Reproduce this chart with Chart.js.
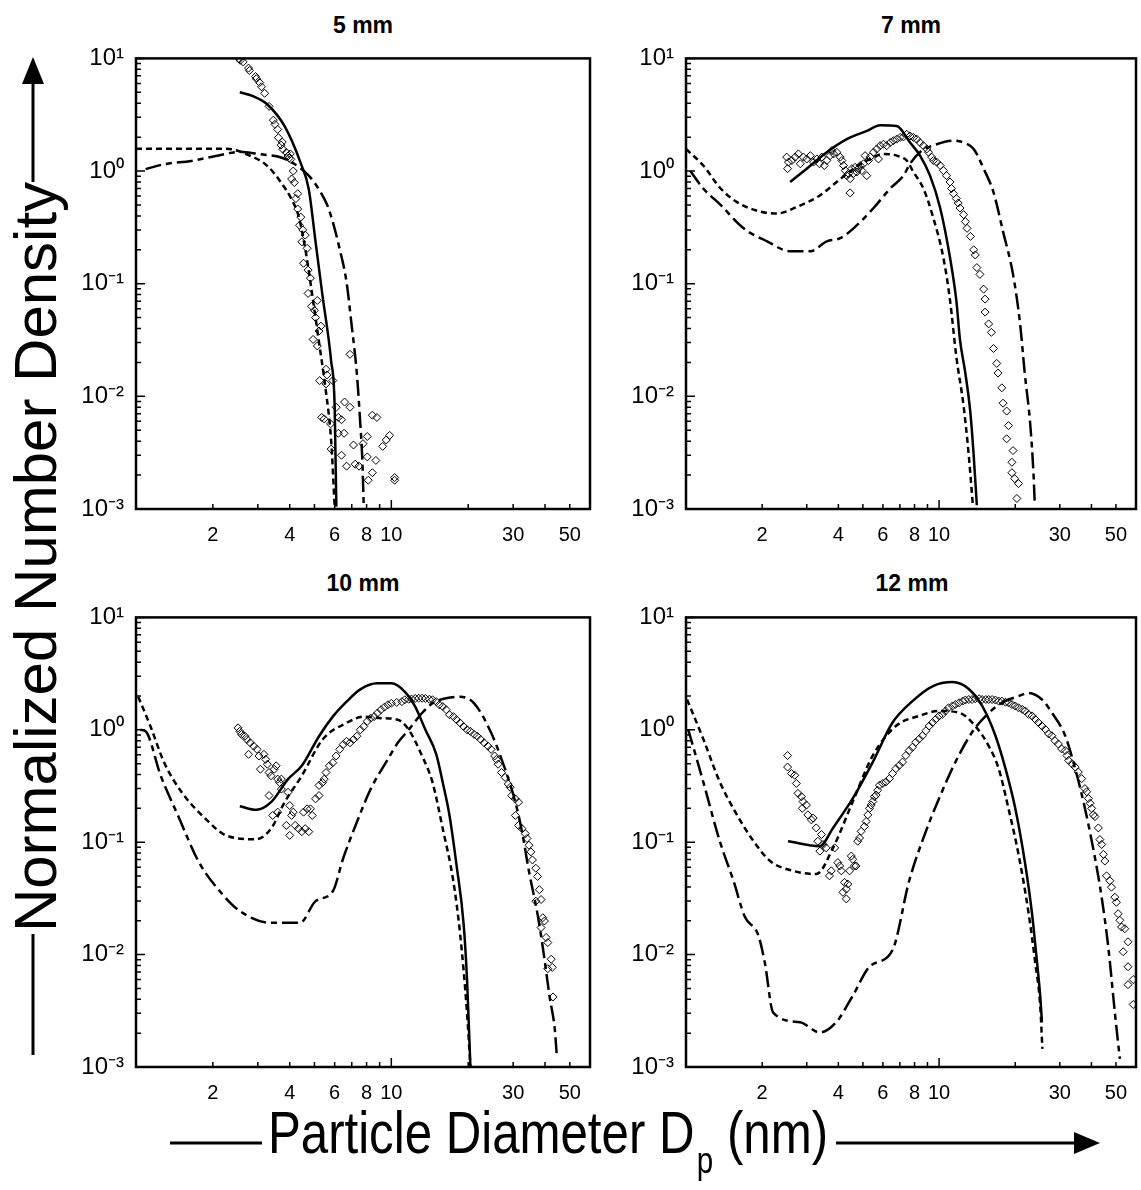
<!DOCTYPE html>
<html>
<head>
<meta charset="utf-8">
<script src="https://cdn.jsdelivr.net/npm/chart.js@4.4.1/dist/chart.umd.min.js"></script>
<style>
  body { margin: 0; background: #fff; }
  #page { position: relative; width: 1141px; height: 1190px; overflow: hidden; background: #fff; }
  canvas { position: absolute; }
  .ptitle { position: absolute; transform: translate(-50%, -50%); font: bold 23px "Liberation Sans", Arial, sans-serif; color: #000; white-space: nowrap; }
  .anchor { position: absolute; width: 0; height: 0; }
  .axt { position: absolute; left: 0; top: 0; white-space: nowrap; font: 60px "Liberation Sans", Arial, sans-serif; color: #000; }
  .axt sub { font-size: 0.6em; vertical-align: -0.55em; margin-left: 0.08em; }
</style>
</head>
<body>
<div id="page">
  <canvas id="c5" width="556" height="514" style="left:40px;top:40px"></canvas>
  <canvas id="c7" width="545" height="514" style="left:596px;top:40px"></canvas>
  <canvas id="c10" width="556" height="513" style="left:40px;top:599px"></canvas>
  <canvas id="c12" width="545" height="513" style="left:596px;top:599px"></canvas>

  <div class="ptitle" style="left:363px;top:25px">5 mm</div>
  <div class="ptitle" style="left:911px;top:25px">7 mm</div>
  <div class="ptitle" style="left:363px;top:583px">10 mm</div>
  <div class="ptitle" style="left:912px;top:583px">12 mm</div>

  <svg width="1141" height="1190" style="position:absolute;left:0;top:0">
    <line x1="33" y1="1055" x2="33" y2="934" stroke="#000" stroke-width="3"/>
    <line x1="33" y1="182" x2="33" y2="80" stroke="#000" stroke-width="3"/>
    <polygon points="33,57 22,84 44,84" fill="#000"/>
    <line x1="170" y1="1143" x2="262" y2="1143" stroke="#000" stroke-width="3"/>
    <line x1="836" y1="1143" x2="1078" y2="1143" stroke="#000" stroke-width="3"/>
    <polygon points="1100,1143 1074,1132 1074,1154" fill="#000"/>
  </svg>

  <div class="anchor" style="left:35px;top:557px">
    <div class="axt" style="transform: translate(-50%, -50%) rotate(-90deg)">Normalized Number Density</div>
  </div>
  <div class="anchor" style="left:548px;top:1140px">
    <div class="axt" style="transform: translate(-50%, -50%) scaleX(0.82)">Particle Diameter D<sub>p</sub> (nm)</div>
  </div>
</div>

<script>
// axes
const xTickValues = [2, 3, 4, 5, 6, 7, 8, 9, 10, 20, 30, 40, 50];
const xTickLabels = [2, 4, 6, 8, 10, 30, 50];
const yTickValues = [0.001, 0.01, 0.1, 1, 10];
const yTickLabels = ['10\u207B\u00B3', '10\u207B\u00B2', '10\u207B\u00B9', '10\u2070', '10\u00B9'];

// 5 mm
const p5Solid = [[2.55,5.0],[2.89,4.6],[3.27,3.9],[3.82,2.5],[4.42,1.17],[4.75,0.69],[5.05,0.235],[5.37,0.08],[5.81,0.0207],[6.0,0.008],[6.09,0.00105]];
const p5Short = [[1.0,1.58],[2.25,1.58],[2.71,1.41],[3.27,1.11],[3.7,0.79],[4.06,0.566],[4.33,0.40],[4.6,0.205],[4.9,0.080],[5.2,0.031],[5.54,0.0112],[5.81,0.0041],[6.0,0.00105]];
const p5Long = [[1.09,1.04],[1.29,1.15],[1.65,1.23],[2.05,1.36],[2.55,1.48],[3.07,1.41],[3.7,1.32],[4.19,1.15],[4.75,0.91],[5.2,0.69],[5.62,0.494],[5.9,0.352],[6.27,0.205],[6.67,0.105],[6.99,0.043],[7.33,0.0158],[7.56,0.0057],[7.69,0.0029],[7.8,0.00105]];
const p5Points = [[2.54,9.9],[2.56,9.6],[2.63,9.3],[2.76,8.2],[2.78,7.8],[2.94,6.9],[2.96,6.6],[3.05,6.1],[3.10,5.6],[3.19,4.9],[3.32,3.75],[3.45,2.83],[3.50,2.6],
  [3.59,2.34],[3.61,1.98],[3.70,1.7],[3.74,1.81],[3.76,1.56],[3.88,1.46],[3.94,1.36],[3.98,1.3],[4.02,1.42],[4.04,1.27],[4.13,1.0],[4.07,0.85],[4.17,0.79],
  [4.30,0.63],[4.23,0.57],[4.30,0.46],[4.42,0.39],[4.37,0.33],[4.50,0.30],[4.60,0.27],[4.46,0.235],[4.68,0.206],[4.53,0.152],[4.72,0.132],[4.82,0.112],
  [4.72,0.082],[4.87,0.063],[5.0,0.058],[5.05,0.050],[5.13,0.071],[5.21,0.038],[5.3,0.042],[4.94,0.032],[5.13,0.028],[5.55,0.0174],[5.6,0.0155],[5.24,0.0138],
  [5.55,0.0129],[5.90,0.0138],[6.08,0.0080],[5.34,0.0065],[5.46,0.0063],[5.78,0.0057],[6.20,0.0065],[6.38,0.0062],[6.20,0.0047],[6.53,0.0047],[6.56,0.0089],
  [6.89,0.0080],[6.89,0.0236],[6.68,0.0024],[6.38,0.0030],[7.22,0.0025],[7.47,0.0024],[7.11,0.0037],[7.75,0.0038],[8.05,0.0044],[8.43,0.0068],[8.78,0.0065],
  [8.05,0.0029],[8.12,0.0018],[8.43,0.0021],[8.70,0.0027],[9.25,0.0036],[9.55,0.0041],[9.85,0.0045],[10.3,0.0019],[10.3,0.0018],[5.81,0.0034]];

// 7 mm
const p7Solid = [[2.58,0.80],[3.0,1.05],[3.6,1.47],[4.32,1.92],[5.18,2.27],[5.85,2.55],[6.8,2.51],[7.68,1.79],[8.41,1.37],[9.21,0.91],[10.1,0.47],[11.05,0.17],[11.7,0.071],[12.1,0.0315],[12.7,0.0161],[13.3,0.0071],[13.7,0.003],[14.1,0.00108]];
const p7Short = [[1.0,1.57],[1.17,1.12],[1.37,0.70],[1.59,0.53],[1.97,0.436],[2.29,0.42],[2.74,0.48],[3.39,0.61],[3.94,0.80],[4.59,1.05],[5.34,1.28],[6.03,1.42],[6.8,1.37],[7.45,1.24],[7.92,0.98],[8.67,0.70],[9.5,0.38],[10.4,0.17],[11.05,0.071],[11.7,0.0225],[12.5,0.0082],[13.1,0.003],[13.6,0.00108]];
const p7Long = [[1.04,1.0],[1.17,0.70],[1.37,0.50],[1.69,0.31],[2.09,0.238],[2.58,0.194],[3.1,0.194],[3.6,0.238],[4.07,0.254],[4.59,0.31],[5.51,0.47],[6.41,0.70],[7.23,0.91],[7.68,1.16],[8.41,1.47],[9.79,1.73],[11.4,1.86],[12.5,1.79],[13.7,1.57],[15.0,1.05],[16.4,0.65],[17.9,0.29],[19.6,0.121],[20.9,0.044],[21.8,0.0161],[22.9,0.0058],[23.6,0.0021],[23.9,0.00108]];
const p7Points = [[2.50,1.33],[2.54,1.20],[2.52,1.05],[2.62,1.24],[2.70,1.33],[2.78,1.42],[2.83,1.16],[2.91,1.33],[3.00,1.28],[3.10,1.37],[3.19,1.20],[3.29,1.28],
  [3.37,1.16],[3.44,1.33],[3.52,1.12],[3.60,1.24],[3.71,1.37],[3.77,1.52],[3.83,1.42],[3.94,1.47],[4.07,1.33],[4.13,1.24],[4.19,1.12],[4.26,1.01],[4.32,0.91],
  [4.39,0.95],[4.45,0.855],[4.52,1.05],[4.59,0.95],[4.66,1.08],[4.73,0.98],[4.80,1.05],[4.88,1.12],[4.95,1.01],[5.03,1.16],[5.10,1.37],[5.18,0.91],[5.26,1.24],
  [5.34,1.33],[5.51,1.47],[5.67,1.57],[5.76,1.28],[5.85,1.68],[6.03,1.73],[6.21,1.68],[6.41,1.79],[6.60,1.86],[6.80,1.92],[7.02,1.99],[7.23,2.01],[7.45,2.12],
  [7.68,2.05],[7.92,1.99],[8.16,1.92],[8.41,1.79],[8.67,1.68],[8.94,1.57],[9.08,1.47],[9.35,1.33],[9.50,1.24],[9.79,1.20],[10.1,1.12],[10.4,1.01],[10.7,0.91],
  [11.05,0.80],[11.2,0.70],[11.4,0.63],[11.7,0.57],[11.9,0.52],[12.1,0.47],[12.5,0.41],[12.7,0.356],[12.9,0.31],[13.3,0.263],[13.7,0.20],[13.9,0.18],[14.1,0.139],
  [14.5,0.121],[15.0,0.0895],[15.2,0.073],[15.2,0.056],[15.7,0.044],[16.1,0.037],[16.4,0.0266],[16.9,0.0196],[17.1,0.0161],[17.7,0.0119],[17.9,0.0087],[18.5,0.0074],
  [18.8,0.0055],[18.5,0.0042],[19.6,0.0033],[19.4,0.0026],[19.4,0.0021],[19.9,0.00186],[20.6,0.00168],[20.3,0.00124],[4.45,0.64]];

// 10 mm
const p10Solid = [[2.55,0.209],[2.96,0.194],[3.38,0.227],[3.94,0.364],[4.46,0.478],[5.21,0.877],[5.90,1.31],[6.68,1.78],[7.56,2.29],[8.83,2.59],[10.0,2.59],[11.3,2.18],[12.4,1.61],[13.6,1.0],[15.0,0.605],[15.9,0.34],[16.9,0.173],[18.0,0.0628],[19.2,0.0186],[19.8,0.0059],[20.4,0.00102]];
const p10Short = [[1.02,1.97],[1.14,1.07],[1.29,0.51],[1.51,0.278],[1.87,0.162],[2.25,0.115],[2.94,0.106],[3.38,0.132],[3.82,0.227],[4.46,0.39],[5.38,0.82],[6.68,1.15],[7.8,1.31],[9.11,1.27],[10.6,1.23],[11.7,1.0],[13.2,0.585],[14.5,0.34],[15.9,0.132],[17.5,0.0448],[18.6,0.0152],[19.8,0.003],[20.4,0.00102]];
const p10Long = [[1.04,1.0],[1.09,0.97],[1.25,0.39],[1.46,0.173],[1.76,0.067],[2.19,0.034],[2.55,0.0244],[3.38,0.0192],[4.39,0.0192],[5.05,0.0299],[5.90,0.0366],[6.48,0.072],[7.33,0.151],[8.30,0.297],[9.69,0.546],[10.6,0.766],[11.7,1.0],[13.2,1.41],[14.5,1.72],[16.4,1.91],[18.6,1.97],[21.1,1.72],[24.6,0.94],[27.9,0.446],[30.6,0.227],[32.5,0.124],[34.6,0.055],[37.4,0.0228],[39.2,0.0116],[41.7,0.0042],[43.7,0.00214],[44.4,0.00133]];
const p10Points = [[2.51,1.04],[2.55,0.97],[2.59,0.91],[2.67,0.877],[2.72,0.82],[2.80,0.766],[2.76,0.605],[2.89,0.716],[2.98,0.67],[3.03,0.585],[3.07,0.446],
  [3.17,0.605],[3.22,0.546],[3.27,0.494],[3.32,0.417],[3.38,0.39],[3.48,0.446],[3.54,0.478],[3.59,0.364],[3.65,0.34],[3.71,0.364],[3.32,0.26],[3.43,0.173],
  [3.59,0.185],[3.71,0.297],[3.94,0.278],[4.00,0.212],[4.07,0.173],[4.13,0.185],[3.88,0.141],[4.00,0.115],[4.20,0.141],[4.33,0.132],[4.46,0.124],[4.60,0.132],
  [4.75,0.124],[4.53,0.185],[4.68,0.198],[4.82,0.198],[4.90,0.173],[5.05,0.243],[5.21,0.26],[5.38,0.34],[5.21,0.32],[5.46,0.364],[5.55,0.417],[5.72,0.478],
  [5.90,0.51],[6.08,0.585],[6.28,0.67],[6.48,0.74],[6.68,0.79],[6.89,0.766],[7.11,0.82],[7.33,0.877],[7.56,1.0],[7.80,1.07],[8.05,1.19],[8.30,1.27],[8.56,1.31],
  [8.83,1.41],[9.11,1.51],[9.40,1.59],[9.69,1.67],[10.0,1.72],[10.5,1.75],[11.0,1.78],[11.3,1.85],[11.7,1.87],[12.0,1.88],[12.4,1.90],[12.8,1.91],[13.2,1.91],
  [13.6,1.90],[14.1,1.87],[14.5,1.85],[15.0,1.78],[15.4,1.67],[15.9,1.61],[16.4,1.51],[16.9,1.36],[17.5,1.31],[18.0,1.23],[18.6,1.15],[19.2,1.07],[19.8,1.0],
  [20.4,0.97],[21.1,0.91],[21.7,0.877],[22.4,0.82],[23.1,0.766],[23.9,0.716],[24.6,0.67],[25.4,0.585],[25.8,0.546],[26.2,0.494],[27.0,0.417],[27.9,0.377],
  [28.7,0.329],[29.2,0.308],[29.6,0.26],[30.6,0.243],[31.5,0.227],[30.6,0.173],[31.5,0.141],[32.5,0.132],[33.5,0.119],[34.0,0.108],[34.6,0.094],[35.2,0.082],
  [35.7,0.0695],[36.8,0.0587],[37.4,0.0496],[38.0,0.0378],[36.8,0.0299],[38.6,0.0309],[39.2,0.0213],[39.8,0.0199],[38.6,0.0174],[40.4,0.0142],[41.0,0.0128],
  [42.3,0.0091],[41.0,0.0075],[42.7,0.0077],[43.0,0.0042]];

// 12 mm
const p12Solid = [[2.53,0.102],[3.38,0.092],[3.81,0.134],[4.56,0.245],[5.47,0.516],[6.55,1.16],[7.85,1.80],[9.42,2.44],[11.3,2.66],[13.1,2.31],[14.8,1.63],[16.7,0.886],[18.3,0.451],[20.0,0.20],[21.9,0.0636],[23.3,0.0231],[24.4,0.0084],[25.1,0.0043],[25.5,0.0025]];
const p12Short = [[1.01,1.86],[1.17,0.83],[1.36,0.344],[1.59,0.175],[1.85,0.102],[2.15,0.068],[2.65,0.0556],[3.27,0.052],[3.81,0.089],[4.56,0.23],[5.47,0.59],[6.75,1.08],[8.35,1.33],[10.0,1.47],[12.0,1.42],[13.9,1.08],[15.7,0.72],[17.2,0.451],[18.8,0.20],[20.6,0.078],[22.6,0.0231],[24.0,0.0084],[25.1,0.0035],[25.6,0.00145]];
const p12Long = [[1.02,1.01],[1.17,0.344],[1.36,0.102],[1.54,0.0454],[1.71,0.0216],[1.93,0.0149],[2.05,0.0084],[2.21,0.00305],[2.82,0.0025],[3.38,0.00203],[3.92,0.0025],[4.56,0.0043],[5.31,0.0078],[6.55,0.011],[7.62,0.0454],[8.87,0.125],[10.0,0.245],[11.6,0.516],[13.5,0.95],[15.3,1.33],[17.7,1.74],[20.6,1.99],[22.6,2.13],[25.5,1.86],[27.9,1.42],[31.5,0.886],[34.5,0.451],[37.7,0.20],[41.3,0.0728],[43.9,0.0324],[46.6,0.0118],[49.5,0.00305],[51.8,0.00118]];
const p12Points = [[2.52,0.59],[2.52,0.466],[2.61,0.408],[2.69,0.394],[2.73,0.333],[2.77,0.272],[2.86,0.254],[2.90,0.23],[2.88,0.20],[2.99,0.214],[3.03,0.175],
  [3.13,0.158],[3.18,0.164],[3.27,0.134],[3.32,0.102],[3.43,0.117],[3.38,0.0833],[3.48,0.0954],[3.58,0.089],[3.69,0.0502],[3.75,0.0556],[3.87,0.089],[3.98,0.0658],
  [4.05,0.0615],[4.11,0.0556],[4.23,0.0439],[4.30,0.0383],[4.36,0.0424],[4.17,0.0358],[4.30,0.0313],[4.43,0.0556],[4.50,0.0753],[4.56,0.0704],[4.63,0.0615],
  [4.70,0.0615],[4.77,0.102],[4.85,0.109],[4.92,0.125],[5.07,0.138],[5.15,0.153],[5.23,0.175],[5.31,0.20],[5.39,0.214],[5.47,0.23],[5.55,0.254],[5.64,0.263],
  [5.72,0.29],[5.81,0.321],[5.99,0.333],[6.17,0.344],[6.36,0.368],[6.55,0.408],[6.75,0.451],[6.96,0.482],[7.17,0.516],[7.39,0.59],[7.62,0.654],[7.85,0.70],
  [8.09,0.774],[8.35,0.83],[8.60,0.886],[8.87,0.98],[9.14,1.08],[9.42,1.16],[9.70,1.24],[10.0,1.33],[10.3,1.37],[10.6,1.47],[10.9,1.57],[11.3,1.63],[11.6,1.68],
  [12.0,1.74],[12.4,1.80],[12.7,1.84],[13.1,1.86],[13.5,1.86],[13.9,1.89],[14.4,1.89],[14.8,1.86],[15.3,1.86],[15.7,1.86],[16.2,1.86],[16.7,1.84],[17.2,1.80],
  [17.7,1.80],[18.3,1.76],[18.8,1.74],[19.4,1.68],[20.0,1.63],[20.6,1.57],[21.3,1.52],[21.9,1.47],[22.6,1.37],[23.3,1.33],[24.0,1.24],[24.7,1.16],[25.5,1.08],
  [26.3,1.01],[27.1,0.92],[27.9,0.886],[28.7,0.80],[29.6,0.748],[30.5,0.676],[31.5,0.654],[32.0,0.59],[32.5,0.534],[33.5,0.499],[34.5,0.466],[35.5,0.421],
  [36.6,0.368],[37.7,0.30],[38.3,0.281],[38.9,0.245],[39.5,0.222],[40.1,0.20],[40.7,0.175],[41.3,0.169],[42.6,0.134],[43.2,0.1055],[43.9,0.0954],[44.6,0.078],
  [45.2,0.068],[45.9,0.0502],[47.3,0.0454],[48.0,0.0398],[49.5,0.0324],[50.2,0.0292],[51.0,0.0231],[51.8,0.0202],[52.6,0.0176],[54.2,0.017],[55.8,0.013],
  [53.4,0.0106],[55.8,0.0078],[58.5,0.006],[55.8,0.0054],[58.5,0.0036]];

const FONT = '"Liberation Sans", Arial, sans-serif';

// minor ticks of the y axis, 1..9 in every decade
const yMinor = [];
for (let d = 0.001; d < 10; d *= 10) {
    for (let m = 1; m <= 9; m++) yMinor.push(+(d * m).toPrecision(3));
}
yMinor.push(10);

const frame = {
    id: 'frame',
    afterDatasetsDraw(chart) {
        const {ctx, chartArea: a, scales: {x, y}} = chart;
        ctx.save();
        ctx.strokeStyle = '#000';
        ctx.lineWidth = 1.5;
        ctx.beginPath();
        xTickValues.forEach(v => {
            const px = x.getPixelForValue(v);
            const len = v === 10 ? 9 : 5;
            ctx.moveTo(px, a.bottom);
            ctx.lineTo(px, a.bottom - len);
        });
        yMinor.forEach(v => {
            const py = y.getPixelForValue(v);
            const len = yTickValues.includes(v) ? 9 : 5;
            ctx.moveTo(a.left, py);
            ctx.lineTo(a.left + len, py);
        });
        ctx.stroke();
        ctx.lineWidth = 2.5;
        ctx.strokeRect(a.left, a.top, a.right - a.left, a.bottom - a.top);
        ctx.restore();
    }
};

function toXY(arr) {
    return arr.map(p => ({x: p[0], y: p[1]}));
}

function curve(arr, dash) {
    return {
        data: toXY(arr),
        showLine: true,
        borderColor: '#000',
        borderWidth: 2.5,
        borderDash: dash,
        pointRadius: 0,
        cubicInterpolationMode: 'monotone',
        fill: false
    };
}

function drawPanel(id, yWidth, padRight, solid, shortDash, longDash, points) {
    const data = {
        datasets: [
            {
                data: toXY(points),
                showLine: false,
                pointStyle: 'rectRot',
                pointRadius: 4,
                borderWidth: 1,
                borderColor: '#000',
                backgroundColor: 'rgba(255,255,255,0)'
            },
            curve(solid, []),
            curve(shortDash, [6, 4]),
            curve(longDash, [16, 5, 6, 5])
        ]
    };

    const config = {
        type: 'scatter',
        data: data,
        options: {
            responsive: false,
            animation: false,
            devicePixelRatio: 1,
            layout: {padding: {top: 15, right: padRight, left: 0, bottom: 0}},
            plugins: {legend: {display: false}, tooltip: {enabled: false}, title: {display: false}},
            scales: {
                x: {
                    type: 'logarithmic',
                    min: 1,
                    max: 60,
                    afterBuildTicks: s => { s.ticks = xTickValues.map(v => ({value: v})); },
                    afterFit: s => { s.height = 45; },
                    grid: {display: false},
                    border: {display: false},
                    ticks: {
                        autoSkip: false,
                        maxRotation: 0,
                        padding: 6,
                        color: '#000',
                        font: {family: FONT, size: 20},
                        callback: v => xTickLabels.includes(v) ? String(v) : ''
                    }
                },
                y: {
                    type: 'logarithmic',
                    min: 0.001,
                    max: 10,
                    afterBuildTicks: s => { s.ticks = yTickValues.map(v => ({value: v})); },
                    afterFit: s => { s.width = yWidth; },
                    grid: {display: false},
                    border: {display: false},
                    ticks: {
                        autoSkip: false,
                        padding: 4,
                        color: '#000',
                        font: {family: FONT, size: 24},
                        callback: v => {
                            const i = yTickValues.indexOf(v);
                            return i >= 0 ? yTickLabels[i] : '';
                        }
                    }
                }
            }
        },
        plugins: [frame]
    };

    let ctx = document.getElementById(id).getContext('2d');
    new Chart(ctx, config);
}

drawPanel('c5', 96, 6, p5Solid, p5Short, p5Long, p5Points);
drawPanel('c7', 90, 4, p7Solid, p7Short, p7Long, p7Points);
drawPanel('c10', 96, 6, p10Solid, p10Short, p10Long, p10Points);
drawPanel('c12', 90, 3, p12Solid, p12Short, p12Long, p12Points);
</script>
</body>
</html>
